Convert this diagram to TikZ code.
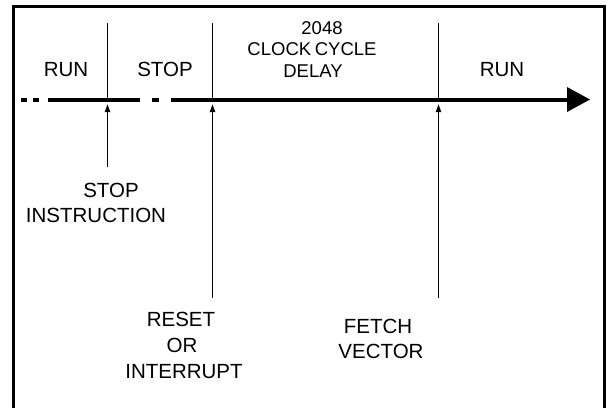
\documentclass[tikz,border=0pt]{standalone}
\usepackage{fontspec}
\setmainfont{Liberation Sans}
\usetikzlibrary{arrows.meta}
\tikzset{
  lbl/.style={inner sep=0pt, anchor=base, font=\fontsize{20.5}{24}\selectfont},
  sml/.style={inner sep=0pt, anchor=base, font=\fontsize{18.5}{22}\selectfont},
  frame/.style={line width=2.2pt},
  tline/.style={line width=4.5pt},
  tick/.style={line width=1.6pt},
  evt/.style={line width=1.8pt, -{Triangle[length=8pt,width=5pt]}},
}
\begin{document}
\begin{tikzpicture}[x=1pt,y=-1pt]
\useasboundingbox (0,0) rectangle (609,407);
% frame
\draw[frame] (13.5,412) -- (13.5,6.5) -- (604.5,6.5) -- (604.5,412);
% timeline
\draw[tline] (21,100) -- (27,100);
\draw[tline] (33,100) -- (39,100);
\draw[tline] (48,100) -- (139.5,100);
\draw[tline] (151.5,100) -- (158.5,100);
\coordinate (tstart) at (171,100);
\coordinate (tend) at (569,100);
\draw[tline] (tstart) -- (tend);
\fill (567,87) -- (590,99.5) -- (567,112) -- cycle;
% ticks
\coordinate (k1t) at (107.5,23);
\coordinate (k1b) at (107.5,100);
\coordinate (k2t) at (212.5,23);
\coordinate (k2b) at (212.5,100);
\coordinate (k3t) at (438.5,23);
\coordinate (k3b) at (438.5,100);
\draw[tick] (k1t) -- (k1b);
\draw[tick] (k2t) -- (k2b);
\draw[tick] (k3t) -- (k3b);
% event arrows
\coordinate (e1s) at (107.5,167);
\coordinate (e1e) at (107.5,104);
\coordinate (e2s) at (212.5,298);
\coordinate (e2e) at (212.5,104);
\coordinate (e3s) at (438.5,298);
\coordinate (e3e) at (438.5,104);
\draw[evt] (e1s) -- (e1e);
\draw[evt] (e2s) -- (e2e);
\draw[evt] (e3s) -- (e3e);
% labels
\node[lbl] (run1) at (66,76.5) {RUN};
\node[lbl] (stop1) at (165,76.5) {STOP};
\node[sml] (d1) at (322,34) {2048};
\node[sml] (d2) at (312,55.5) {CLOCK\kern-1.5pt\ CYCLE};
\node[sml] (d3) at (313,77) {DELAY};
\node[lbl] (run2) at (502,76.5) {RUN};
\node[lbl] (si1) at (111,197.5) {STOP};
\node[lbl] (si2) at (96,222.5) {INSTRUCTION};
\node[lbl] (ri1) at (181,326) {RESET};
\node[lbl] (ri2) at (182,352.5) {OR};
\node[lbl] (ri3) at (184,378) {INTERRUPT};
\node[lbl] (fv1) at (378,333) {FETCH};
\node[lbl] (fv2) at (381,358) {VECTOR};
\end{tikzpicture}
\end{document}
